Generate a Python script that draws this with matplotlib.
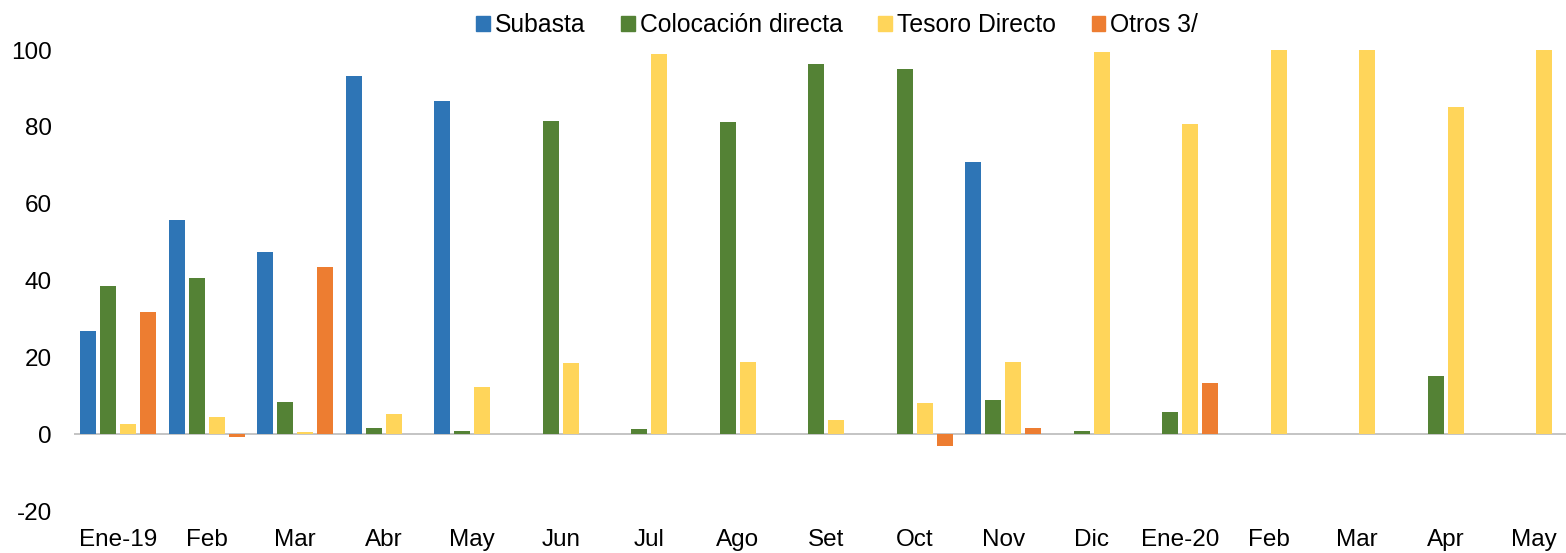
import numpy as np
import matplotlib.pyplot as plt
from matplotlib.patches import Patch

plt.rcParams['font.family'] = ['Liberation Sans', 'DejaVu Sans']
plt.rcParams['axes.unicode_minus'] = False

meses = ['Ene-19', 'Feb', 'Mar', 'Abr', 'May', 'Jun', 'Jul', 'Ago', 'Set',
         'Oct', 'Nov', 'Dic', 'Ene-20', 'Feb', 'Mar', 'Apr', 'May']

subasta = [26.8, 55.7, 47.4, 93.3, 86.8, 0, 0, 0, 0, 0, 70.8, 0, 0, 0, 0, 0, 0]
colocacion = [38.6, 40.7, 8.4, 1.5, 0.9, 81.5, 1.3, 81.2, 96.4, 95.0, 8.9, 0.7, 5.8, 0, 0, 15.2, 0]
tesoro = [2.7, 4.4, 0.5, 5.2, 12.2, 18.5, 99.0, 18.8, 3.6, 8.0, 18.8, 99.5, 80.7, 100, 100, 85.1, 100]
otros = [31.8, -0.8, 43.5, 0, 0, 0.1, 0, 0, 0, -3.1, 1.6, 0, 13.4, 0, 0, 0, 0]

series = [subasta, colocacion, tesoro, otros]
nombres = ['Subasta', 'Colocación directa', 'Tesoro Directo', 'Otros 3/']
colores = ['#2E75B6', '#548235', '#FFD55A', '#ED7D31']

fig = plt.figure(figsize=(15.66, 5.53), dpi=100)
# ejes un poco más anchos que la figura, como en el original
ax = fig.add_axes([74 / 1566, 42 / 553, 17 * 88.5 / 1566, 461 / 553])

x = np.arange(len(meses))
paso = 0.226
ancho = 0.186
for i, (vals, col) in enumerate(zip(series, colores)):
    ax.bar(x + (i - 1.5) * paso, vals, width=ancho, color=col, zorder=2)

ax.axhline(0, color='#BFBFBF', lw=1.3, zorder=1)
ax.set_xlim(-0.5, len(meses) - 0.5)
ax.set_ylim(-20, 100)
ax.set_yticks(range(-20, 101, 20))
ax.set_xticks(x)
ax.set_xticklabels(meses)
for s in ax.spines.values():
    s.set_visible(False)
ax.tick_params(axis='both', length=0, labelsize=17.5, colors='black')
ax.tick_params(axis='x', pad=13)
ax.tick_params(axis='y', pad=16)

handles = [Patch(color=c, label=n) for c, n in zip(colores, nombres)]
fig.legend(handles=handles, loc='center', bbox_to_anchor=(837 / 1566, 1 - 25 / 553),
           ncol=4, frameon=False, fontsize=17.8, handlelength=0.55, handleheight=0.55,
           handletextpad=0.2, columnspacing=1.45, borderpad=0, borderaxespad=0)

fig.savefig('out.png', dpi=100)
